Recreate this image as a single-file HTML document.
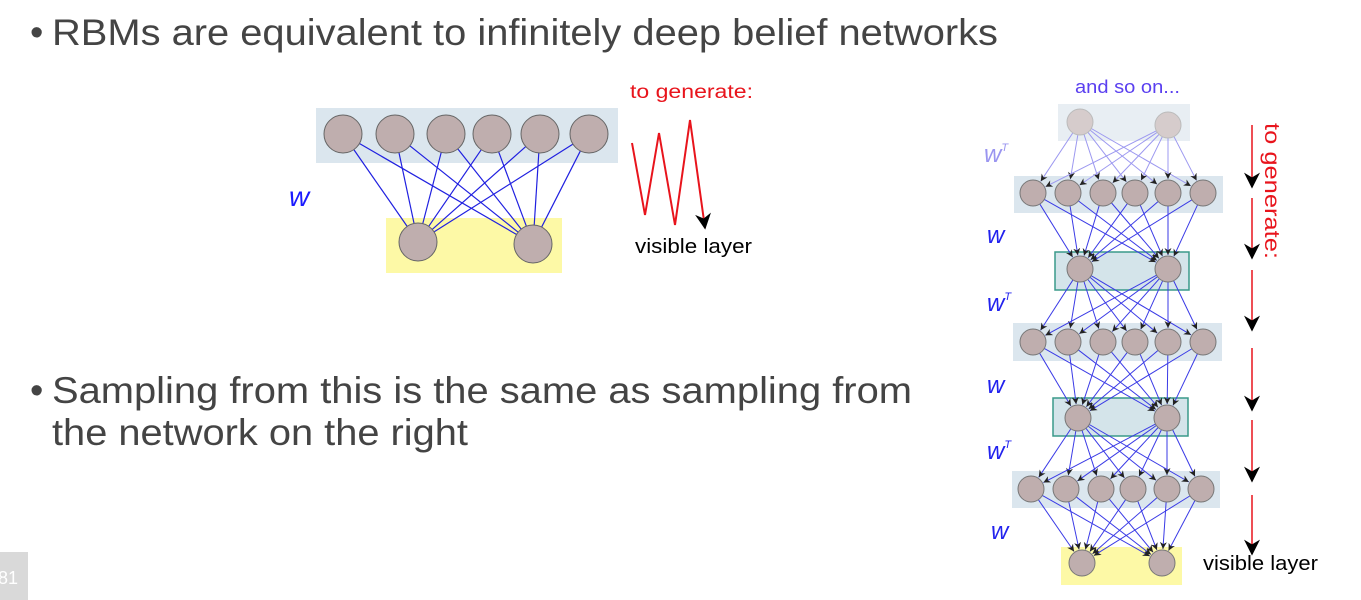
<!DOCTYPE html>
<html><head><meta charset="utf-8"><style>
html,body{margin:0;padding:0;background:#fff;}
svg{display:block;}
</style></head><body>
<svg id="s" width="1361" height="600" viewBox="0 0 1361 600" xmlns="http://www.w3.org/2000/svg" font-family="Liberation Sans, sans-serif">
<defs>
<marker id="ah" viewBox="0 0 10 10" refX="10" refY="5" markerWidth="7" markerHeight="7" orient="auto" markerUnits="userSpaceOnUse">
<path d="M0,0 L10,5 L0,10 L3,5 z" fill="#222"/></marker>
<marker id="bh" viewBox="0 0 10 10" refX="9" refY="5" markerWidth="16" markerHeight="16" orient="auto" markerUnits="userSpaceOnUse">
<path d="M0,0 L10,5 L0,10 L3,5 z" fill="#000"/></marker>
</defs>
<text x="30" y="45" font-size="38" fill="#444">•</text>
<text x="52" y="45" font-size="37" fill="#444" textLength="946" lengthAdjust="spacingAndGlyphs">RBMs are equivalent to infinitely deep belief networks</text>
<text x="30" y="403" font-size="38" fill="#444">•</text>
<text x="52" y="403" font-size="37" fill="#444" textLength="860" lengthAdjust="spacingAndGlyphs">Sampling from this is the same as sampling from</text>
<text x="52" y="445" font-size="37" fill="#444" textLength="416" lengthAdjust="spacingAndGlyphs">the network on the right</text>
<rect x="0" y="552" width="28" height="48" fill="#d9d9d9"/>
<text x="-2" y="584" font-size="18" fill="#fff">81</text>

<!-- left diagram -->
<rect x="316" y="108" width="302" height="55" fill="#dbe6ee"/>
<rect x="386" y="218" width="176" height="55" fill="#fdf9a6"/>
<g id="left"></g>
<text x="289" y="206" font-size="28" font-style="italic" fill="#1a1aff">w</text>
<text x="630" y="98" font-size="19" fill="#e8141c" textLength="123" lengthAdjust="spacingAndGlyphs">to generate:</text>
<polyline points="632,143 645,215 659,133 675,225 690,120 705,228" fill="none" stroke="#e8141c" stroke-width="2" marker-end="url(#bh)"/>
<text x="635" y="253" font-size="20" fill="#000" textLength="117" lengthAdjust="spacingAndGlyphs">visible layer</text>

<!-- right diagram -->
<text x="1075" y="93" font-size="18" fill="#5a3ff0" textLength="105" lengthAdjust="spacingAndGlyphs">and so on...</text>
<rect x="1058" y="104" width="132" height="37" fill="#e8eef3"/>
<rect x="1014" y="176" width="209" height="37" fill="#dbe6ee"/>
<rect x="1055" y="252" width="134" height="38" fill="#d4e4ea" stroke="#3a9a8a" stroke-width="1.5"/>
<rect x="1013" y="323" width="209" height="38" fill="#dbe6ee"/>
<rect x="1053" y="398" width="135" height="38" fill="#d4e4ea" stroke="#3a9a8a" stroke-width="1.5"/>
<rect x="1012" y="471" width="208" height="37" fill="#dbe6ee"/>
<rect x="1061" y="547" width="121" height="38" fill="#fdf9a6"/>
<g id="right"></g>
<g font-size="24" font-style="italic" fill="#2222ee">
<text x="984" y="162" fill="#9a95f0">w<tspan font-size="11" dy="-11">T</tspan></text>
<text x="987" y="243">w</text>
<text x="987" y="311">w<tspan font-size="11" dy="-11">T</tspan></text>
<text x="987" y="393">w</text>
<text x="987" y="459">w<tspan font-size="11" dy="-11">T</tspan></text>
<text x="991" y="539">w</text>
</g>
<g stroke="#e8141c" stroke-width="1.5" marker-end="url(#bh)">
<line x1="1252" y1="125" x2="1252" y2="187"/>
<line x1="1252" y1="198" x2="1252" y2="258"/>
<line x1="1252" y1="270" x2="1252" y2="330"/>
<line x1="1252" y1="348" x2="1252" y2="410"/>
<line x1="1252" y1="420" x2="1252" y2="481"/>
<line x1="1252" y1="495" x2="1252" y2="554"/>
</g>
<text transform="translate(1265,123) rotate(90)" font-size="21" fill="#e8141c" textLength="136" lengthAdjust="spacingAndGlyphs">to generate:</text>
<text x="1203" y="570" font-size="20" fill="#000" textLength="115" lengthAdjust="spacingAndGlyphs">visible layer</text>
</svg>
<script>
var NS="http://www.w3.org/2000/svg";
function el(p,t,a){var e=document.createElementNS(NS,t);for(var k in a)e.setAttribute(k,a[k]);p.appendChild(e);return e;}
var L=document.getElementById("left");
var top6=[343,395,446,492,540,589].map(function(x){return [x,134];});
var bot2=[[418,242],[533,244]];
top6.forEach(function(a){bot2.forEach(function(b){
 var dx=b[0]-a[0],dy=b[1]-a[1],d=Math.hypot(dx,dy),r=19;
 el(L,"line",{x1:a[0]+dx/d*r,y1:a[1]+dy/d*r,x2:b[0]-dx/d*r,y2:b[1]-dy/d*r,stroke:"#2020e0","stroke-width":1.2});
});});
top6.concat(bot2).forEach(function(c){el(L,"circle",{cx:c[0],cy:c[1],r:19,fill:"#bfaeae",stroke:"#666","stroke-width":1});});

var R=document.getElementById("right");
var layers=[
 [[1080,122],[1168,125]],
 [1033,1068,1103,1135,1168,1203].map(function(x){return [x,193];}),
 [[1080,269],[1168,269]],
 [1033,1068,1103,1135,1168,1203].map(function(x){return [x,342];}),
 [[1078,418],[1167,418]],
 [1031,1066,1101,1133,1167,1201].map(function(x){return [x,489];}),
 [[1082,563],[1162,563]]
];
var r=13;
for(var i=0;i<layers.length-1;i++){
 layers[i].forEach(function(a){layers[i+1].forEach(function(b){
  var dx=b[0]-a[0],dy=b[1]-a[1],d=Math.hypot(dx,dy);
  el(R,"line",{x1:a[0]+dx/d*r,y1:a[1]+dy/d*r,x2:b[0]-dx/d*(r+1),y2:b[1]-dy/d*(r+1),stroke:i==0?"#9c98f0":"#3a3ae6","stroke-width":1,"marker-end":"url(#ah)"});
 });});
}
layers.forEach(function(l,i){l.forEach(function(c){el(R,"circle",{cx:c[0],cy:c[1],r:r,fill:i==0?"#d6cccc":"#bfaeae",stroke:i==0?"#bbb":"#777","stroke-width":1});});});
</script>
</body></html>
